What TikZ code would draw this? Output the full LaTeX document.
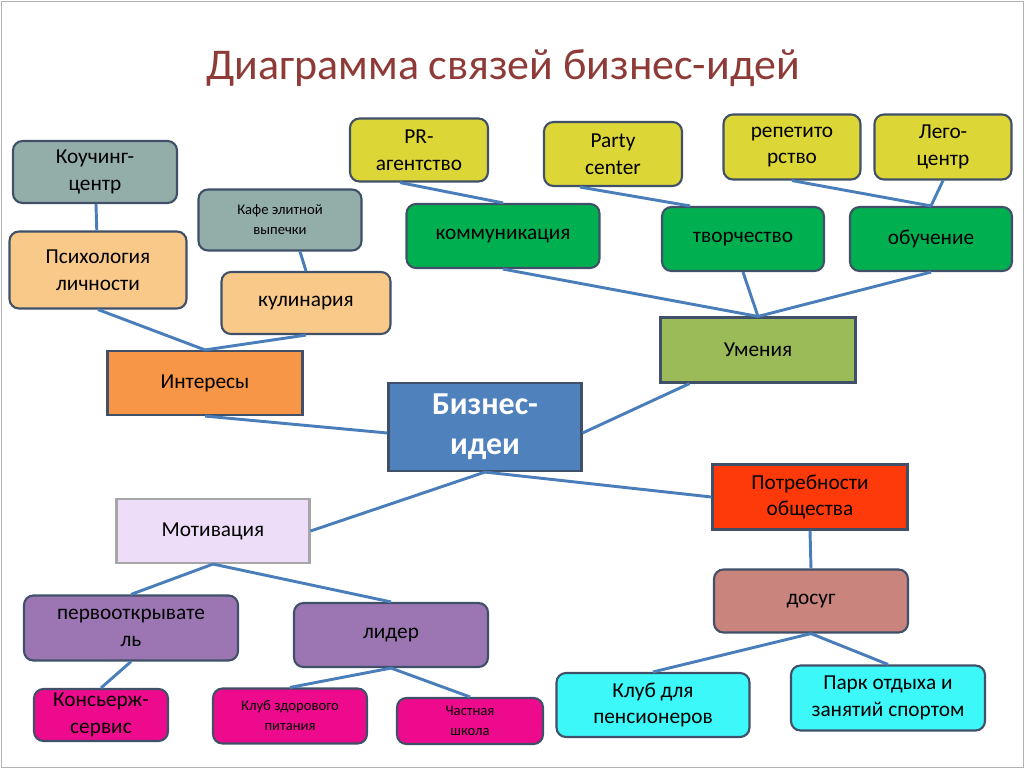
\documentclass[tikz,border=0pt]{standalone}
\usepackage{fontspec}
\setmainfont{Carlito}
\usetikzlibrary{positioning,calc}
\newdimen\px \px=0.0264cm
\definecolor{linkc}{HTML}{4A7EBB}
\definecolor{edgec}{HTML}{3F5068}
\definecolor{greyc}{HTML}{93ADA8}
\definecolor{tanc}{HTML}{F9C98A}
\definecolor{orangec}{HTML}{F79646}
\definecolor{yellowc}{HTML}{DCD636}
\definecolor{greenc}{HTML}{00B050}
\definecolor{olivec}{HTML}{9BBB59}
\definecolor{bluec}{HTML}{4F81BD}
\definecolor{redc}{HTML}{FF3A0A}
\definecolor{lavc}{HTML}{EDDDF8}
\definecolor{purplec}{HTML}{9B76B3}
\definecolor{magc}{HTML}{EE0A8C}
\definecolor{rosec}{HTML}{C9847D}
\definecolor{cyanc}{HTML}{3CF8F8}
\definecolor{titlec}{HTML}{8E3B38}
\tikzset{
  idea/.style={draw=edgec, line width=1.6pt, rounded corners=2.5mm, align=center,
     font=\fontsize{16}{20}\selectfont, inner sep=1pt},
  flat/.style={idea, sharp corners},
  small/.style={font=\fontsize{11}{15}\selectfont},
  link/.style={draw=linkc, line width=2.2pt}
}
\begin{document}
\begin{tikzpicture}[x=\px, y=-\px]
    \useasboundingbox (0,0) rectangle (1024,768);
    \draw[gray!60] (1,1) rectangle (1023,767);
    \node[text=titlec, font=\fontsize{33}{38}\selectfont] (title) at (503,68) {Диаграмма связей бизнес-идей};
    % interests branch
    \node[idea, fill=greyc, minimum width=164\px, minimum height=62\px] (coach) at (95,172) {Коучинг-\\центр};
    \node[idea, fill=tanc, minimum width=177\px, minimum height=77\px] (psych) at (98,270) {Психология\\личности};
    \node[idea, small, fill=greyc, minimum width=163\px, minimum height=61\px] (cafe) at (280,220) {Кафе элитной\\выпечки};
    \node[idea, fill=tanc, minimum width=169\px, minimum height=62\px] (cook) at (306,303) {кулинария};
    \node[flat, fill=orangec, minimum width=195\px, minimum height=64\px] (interest) at (205,383) {Интересы};
    % skills branch
    \node[idea, fill=yellowc, minimum width=138\px, minimum height=63\px] (pr) at (419,150) {PR-\\агентство};
    \node[idea, fill=yellowc, minimum width=138\px, minimum height=64\px] (party) at (613,154) {Party\\center};
    \node[idea, fill=yellowc, minimum width=137\px, minimum height=65\px] (tutor) at (792,147) {репетито\\рство};
    \node[idea, fill=yellowc, minimum width=137\px, minimum height=65\px] (lego) at (943,147) {Лего-\\центр};
    \node[idea, fill=greenc, minimum width=193\px, minimum height=64\px] (comm) at (503,236) {коммуникация};
    \node[idea, fill=greenc, minimum width=162\px, minimum height=64\px] (art) at (743,239) {творчество};
    \node[idea, fill=greenc, minimum width=162\px, minimum height=64\px] (learn) at (931,239) {обучение};
    \node[flat, fill=olivec, minimum width=195\px, minimum height=65\px] (skill) at (758,350) {Умения};
    % center
    \node[flat, fill=bluec, text=white, font=\fontsize{24}{30}\selectfont\bfseries,
          minimum width=193\px, minimum height=88\px] (biz) at (485,427) {Бизнес-\\идеи};
    % needs branch
    \node[flat, fill=redc, minimum width=195\px, minimum height=65\px] (need) at (810,497) {Потребности\\общества};
    \node[idea, fill=rosec, minimum width=194\px, minimum height=63\px] (leisure) at (811,601) {досуг};
    \node[idea, fill=cyanc, minimum width=193\px, minimum height=64\px] (club) at (653,705) {Клуб для\\пенсионеров};
    \node[idea, fill=cyanc, minimum width=194\px, minimum height=65\px] (park) at (888,698) {Парк отдыха и\\занятий спортом};
    % motivation branch
    \node[flat, fill=lavc, draw=gray!70, minimum width=193\px, minimum height=64\px] (motive) at (213,531) {Мотивация};
    \node[idea, fill=purplec, minimum width=214\px, minimum height=65\px] (pioneer) at (131,628) {первооткрывате\\ль};
    \node[idea, fill=purplec, minimum width=194\px, minimum height=64\px] (leader) at (391,635) {лидер};
    \node[idea, fill=magc, minimum width=134\px, minimum height=52\px] (concierge) at (101,715) {Консьерж-\\сервис};
    \node[idea, small, fill=magc, minimum width=154\px, minimum height=55\px] (food) at (290,716) {Клуб здорового\\питания};
    \node[idea, small, fill=magc, minimum width=146\px, minimum height=46\px] (school) at (470,721) {Частная\\школа};
    % links
    \path[link] (coach) -- (psych);
    \path[link] (psych.south) -- (interest.north);
    \path[link] (cook.south) -- (interest.north);
    \path[link] ([xshift=20\px]cafe.south) -- (cook.north);
    \path[link] (interest.south) -- ([yshift=-6\px]biz.west);
    \path[link] ([yshift=-6\px]biz.east) -- ([xshift=30\px]skill.south west);
    \path[link] (skill.north) -- (comm.south);
    \path[link] (skill.north) -- (art.south);
    \path[link] (skill.north) -- (learn.south);
    \path[link] ([xshift=-19\px]pr.south) -- (comm.north);
    \path[link] ([xshift=-33\px]party.south) -- ([xshift=-53\px]art.north);
    \path[link] (tutor.south) -- (learn.north);
    \path[link] (lego.south) -- (learn.north);
    \path[link] (biz.south) -- (motive.east);
    \path[link] (biz.south) -- (need.west);
    \path[link] (need.south) -- (leisure.north);
    \path[link] (leisure.south) -- (club.north);
    \path[link] (leisure.south) -- (park.north);
    \path[link] (motive.south) -- (pioneer.north);
    \path[link] (motive.south) -- (leader.north);
    \path[link] (pioneer.south) -- (concierge.north);
    \path[link] (leader.south) -- (food.north);
    \path[link] (leader.south) -- (school.north);
\end{tikzpicture}
\end{document}
